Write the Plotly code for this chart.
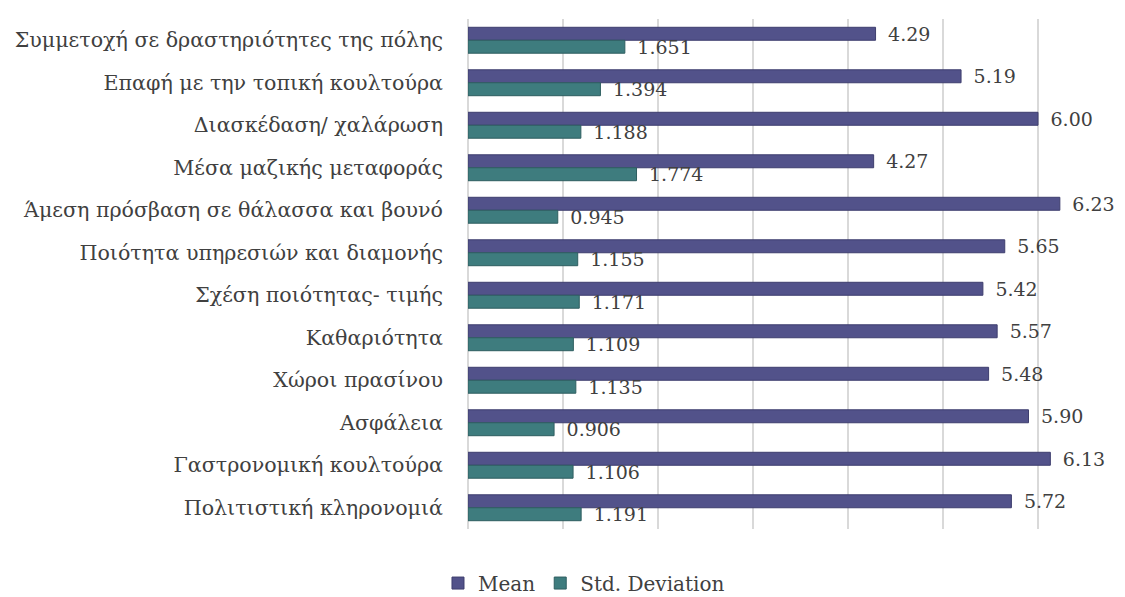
import plotly.graph_objects as go

categories = [
    'Συμμετοχή σε δραστηριότητες της πόλης',
    'Επαφή με την τοπική κουλτούρα',
    'Διασκέδαση/ χαλάρωση',
    'Μέσα μαζικής μεταφοράς',
    'Άμεση πρόσβαση σε θάλασσα και βουνό',
    'Ποιότητα υπηρεσιών και διαμονής',
    'Σχέση ποιότητας- τιμής',
    'Καθαριότητα',
    'Χώροι πρασίνου',
    'Ασφάλεια',
    'Γαστρονομική κουλτούρα',
    'Πολιτιστική κληρονομιά',
]
mean_vals = [4.29, 5.19, 6.00, 4.27, 6.23, 5.65, 5.42, 5.57, 5.48, 5.90, 6.13, 5.72]
std_vals = [1.651, 1.394, 1.188, 1.774, 0.945, 1.155, 1.171, 1.109, 1.135, 0.906, 1.106, 1.191]

font_family = 'DejaVu Serif'
text_color = '#404040'
pad = '\u2002'  # small gap between bar end and value label

fig = go.Figure()

fig.add_trace(go.Bar(
    y=categories,
    x=mean_vals,
    name='Mean',
    orientation='h',
    marker=dict(color='#52528A', line=dict(color='#3E3E6E', width=1)),
    text=[f'{pad}{v:.2f}' for v in mean_vals],
    textposition='outside',
    constraintext='none',
    textfont=dict(size=19, color=text_color, family=font_family),
    cliponaxis=False,
))

fig.add_trace(go.Bar(
    y=categories,
    x=std_vals,
    name='Std. Deviation',
    orientation='h',
    marker=dict(color='#3E7C7E', line=dict(color='#2E5E60', width=1)),
    text=[f'{pad}{v:.3f}' for v in std_vals],
    textposition='outside',
    constraintext='none',
    textfont=dict(size=19, color=text_color, family=font_family),
    cliponaxis=False,
))

fig.update_layout(
    width=1125,
    height=597,
    barmode='group',
    bargap=0.39,
    bargroupgap=0,
    plot_bgcolor='white',
    paper_bgcolor='white',
    font=dict(family=font_family, size=20, color=text_color),
    margin=dict(t=11, b=76, l=460, r=38, autoexpand=False),
    legend=dict(
        orientation='h',
        x=0.185, xanchor='center',
        y=-0.106, yanchor='middle',
        font=dict(size=20, color=text_color),
        itemwidth=30,
    ),
    xaxis=dict(
        range=[0, 6.6],
        dtick=1,
        showticklabels=False,
        showgrid=True,
        gridcolor='#D9D9D9',
        gridwidth=1.5,
        zeroline=True,
        zerolinecolor='#D9D9D9',
        zerolinewidth=1.5,
        automargin=False,
    ),
    yaxis=dict(
        autorange='reversed',
        ticks='',
        ticklabelstandoff=24,
        tickfont=dict(size=20.6, color=text_color),
        automargin=False,
    ),
)

fig.write_html('out.html')
